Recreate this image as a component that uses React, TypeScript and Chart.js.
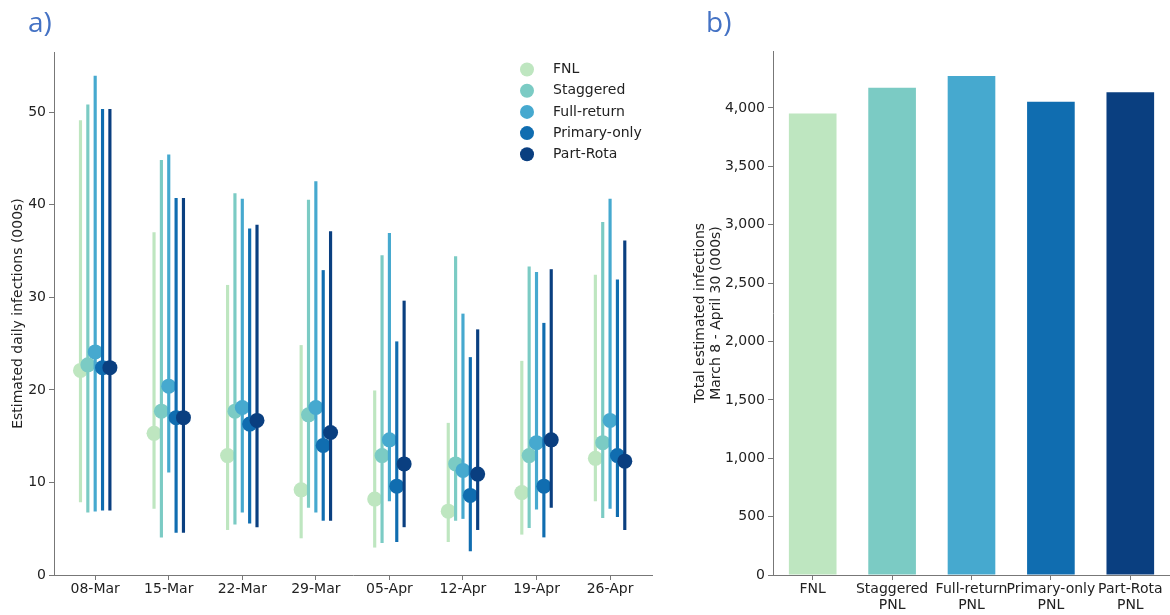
import React, { useEffect, useRef } from 'react';
import { Chart, registerables } from 'chart.js';

Chart.register(...registerables);

// ---- Panel a) data ----
const weeks = ['08-Mar', '15-Mar', '22-Mar', '29-Mar', '05-Apr', '12-Apr', '19-Apr', '26-Apr'];
const seriesNames = ['FNL', 'Staggered', 'Full-return', 'Primary-only', 'Part-Rota'];
const seriesColors = ['#bee6c0', '#7bcbc4', '#46a9cf', '#106db0', '#0a3f80'];
const seriesOffsets = [-0.2, -0.1, 0, 0.1, 0.2];

const fnlMean = [22.1, 15.3, 12.9, 9.2, 8.2, 6.9, 8.9, 12.6];
const fnlLow = [7.9, 7.2, 4.9, 4.0, 3.0, 3.6, 4.4, 8.0];
const fnlHigh = [49.1, 37.0, 31.3, 24.8, 19.9, 16.4, 23.1, 32.4];

const staggeredMean = [22.7, 17.7, 17.7, 17.3, 12.9, 12.0, 12.9, 14.3];
const staggeredLow = [6.8, 4.1, 5.5, 7.3, 3.5, 5.9, 5.1, 6.2];
const staggeredHigh = [50.8, 44.8, 41.2, 40.5, 34.5, 34.4, 33.3, 38.1];

const fullMean = [24.1, 20.4, 18.1, 18.1, 14.6, 11.3, 14.3, 16.7];
const fullLow = [6.9, 11.1, 6.8, 6.8, 8.0, 6.1, 7.1, 7.2];
const fullHigh = [53.9, 45.4, 40.6, 42.5, 36.9, 28.2, 32.7, 40.6];

const primaryMean = [22.4, 17.0, 16.3, 14.0, 9.6, 8.6, 9.6, 12.9];
const primaryLow = [7.0, 4.6, 5.6, 5.9, 3.6, 2.6, 4.1, 6.3];
const primaryHigh = [50.3, 40.7, 37.4, 32.9, 25.2, 23.5, 27.2, 31.9];

const partMean = [22.4, 17.0, 16.7, 15.4, 12.0, 10.9, 14.6, 12.3];
const partLow = [7.0, 4.6, 5.2, 5.9, 5.2, 4.9, 7.3, 4.9];
const partHigh = [50.3, 40.7, 37.8, 37.1, 29.6, 26.5, 33.0, 36.1];

const dailyYTicks = [0, 10, 20, 30, 40, 50];

// ---- Panel b) data ----
const totalLabels = [['FNL'], ['Staggered', 'PNL'], ['Full-return', 'PNL'], ['Primary-only', 'PNL'], ['Part-Rota', 'PNL']];
const totalValues = [3953, 4174, 4274, 4053, 4134];
const totalYTicks = [0, 500, 1000, 1500, 2000, 2500, 3000, 3500, 4000];

const FONT = "'DejaVu Sans', sans-serif";
const TEXT = '#222222';
const AXIS = '#777777';

Chart.defaults.font.family = FONT;
Chart.defaults.font.size = 14;
Chart.defaults.color = TEXT;

const means = [fnlMean, staggeredMean, fullMean, primaryMean, partMean];
const lows = [fnlLow, staggeredLow, fullLow, primaryLow, partLow];
const highs = [fnlHigh, staggeredHigh, fullHigh, primaryHigh, partHigh];

const innerLegend = {
  id: 'innerLegend',
  afterDraw(chart: any) {
    const { ctx, chartArea } = chart;
    ctx.save();
    ctx.font = `14px ${FONT}`;
    ctx.textBaseline = 'middle';
    ctx.textAlign = 'left';
    seriesNames.forEach((name, k) => {
      const y = chartArea.top + 17.5 + k * 21.2;
      ctx.beginPath();
      ctx.arc(chartArea.right - 125, y, 7, 0, Math.PI * 2);
      ctx.fillStyle = seriesColors[k];
      ctx.fill();
      ctx.fillStyle = TEXT;
      ctx.fillText(name, chartArea.right - 99, y);
    });
    ctx.restore();
  },
};

function DailyChart() {
  const ref = useRef<HTMLCanvasElement>(null);
  useEffect(() => {
    const datasets: any[] = [];
    seriesNames.forEach((name, k) => {
      datasets.push({
        type: 'bar',
        label: name + ' range',
        data: weeks.map((_, i) => ({ x: i + seriesOffsets[k], y: [lows[k][i], highs[k][i]] })),
        backgroundColor: seriesColors[k],
        borderWidth: 0,
        barThickness: 2.5,
        grouped: false,
        order: 20 - 2 * k,
      });
      datasets.push({
        type: 'scatter',
        label: name,
        data: weeks.map((_, i) => ({ x: i + seriesOffsets[k], y: means[k][i] })),
        pointRadius: 7.5,
        pointHoverRadius: 7.5,
        pointBackgroundColor: seriesColors[k],
        pointBorderWidth: 0,
        showLine: false,
        order: 19 - 2 * k,
      });
    });
    const chart = new Chart(ref.current!, {
      type: 'bar',
      data: { datasets },
      options: {
        responsive: false,
        animation: false,
        events: [],
        layout: { padding: { top: 52, right: 13, left: 0, bottom: 0 } },
        plugins: { legend: { display: false }, tooltip: { enabled: false } },
        scales: {
          x: {
            type: 'linear',
            min: -0.56,
            max: 7.57,
            offset: false,
            grid: { drawOnChartArea: false, tickLength: 5, color: AXIS, offset: false },
            border: { color: AXIS },
            ticks: {
              padding: 1,
              color: TEXT,
              font: { size: 14 },
              maxRotation: 0,
              autoSkip: false,
              callback: (v: any) => weeks[v] ?? '',
            },
            afterBuildTicks: (s: any) => {
              s.ticks = weeks.map((_, i) => ({ value: i }));
            },
            afterFit: (s: any) => {
              s.height = 40;
            },
          },
          y: {
            type: 'linear',
            min: 0,
            max: 56.5,
            grid: { drawOnChartArea: false, tickLength: 5, color: AXIS },
            border: { color: AXIS },
            ticks: { padding: 3, color: TEXT, font: { size: 14 } },
            afterBuildTicks: (s: any) => {
              s.ticks = dailyYTicks.map((v) => ({ value: v }));
            },
            title: {
              display: true,
              text: 'Estimated daily infections (000s)',
              font: { size: 14, lineHeight: 1.2 },
              color: TEXT,
              padding: { top: 10, bottom: 0 },
            },
            afterFit: (s: any) => {
              s.width = 54;
            },
          },
        },
      } as any,
      plugins: [innerLegend],
    });
    return () => chart.destroy();
  }, []);
  return <canvas ref={ref} width={665} height={615} style={{ position: 'absolute', left: 0, top: 0 }} />;
}

function TotalChart() {
  const ref = useRef<HTMLCanvasElement>(null);
  useEffect(() => {
    const chart = new Chart(ref.current!, {
      type: 'bar',
      data: {
        labels: totalLabels as any,
        datasets: [
          {
            label: 'Total estimated infections',
            data: totalValues,
            backgroundColor: seriesColors,
            borderWidth: 0,
            barPercentage: 0.6,
            categoryPercentage: 1,
          },
        ],
      },
      options: {
        responsive: false,
        animation: false,
        events: [],
        layout: { padding: { top: 51, right: 0, left: 0, bottom: 0 } },
        plugins: { legend: { display: false }, tooltip: { enabled: false } },
        scales: {
          x: {
            grid: { drawOnChartArea: false, tickLength: 5, color: AXIS, offset: false },
            border: { color: AXIS },
            ticks: {
              padding: 1,
              color: TEXT,
              font: { size: 14, lineHeight: 1.15 },
              maxRotation: 0,
              minRotation: 0,
              autoSkip: false,
            },
            afterFit: (s: any) => {
              s.height = 40;
            },
          },
          y: {
            min: 0,
            max: 4488,
            grid: { drawOnChartArea: false, tickLength: 5, color: AXIS },
            border: { color: AXIS },
            ticks: {
              padding: 3,
              color: TEXT,
              font: { size: 14 },
              callback: (v: any) => Number(v).toLocaleString('en-US'),
            },
            afterBuildTicks: (s: any) => {
              s.ticks = totalYTicks.map((v) => ({ value: v }));
            },
            title: {
              display: true,
              text: ['Total estimated infections', 'March 8 - April 30 (000s)'],
              font: { size: 14, lineHeight: 1.2 },
              color: TEXT,
              padding: { top: 11.6, bottom: 0 },
            },
            afterFit: (s: any) => {
              s.width = 93;
            },
          },
        },
      } as any,
    });
    return () => chart.destroy();
  }, []);
  return <canvas ref={ref} width={490} height={615} style={{ position: 'absolute', left: 680, top: 0 }} />;
}

const panelLabel: React.CSSProperties = {
  position: 'absolute',
  top: 7,
  fontFamily: "'Open Sans', sans-serif",
  fontSize: 28,
  lineHeight: '28px',
  color: '#4472c4',
};

export default function App() {
  return (
    <div
      style={{
        position: 'fixed',
        left: 0,
        top: 0,
        width: 1170,
        height: 615,
        background: '#ffffff',
        overflow: 'hidden',
      }}
    >
      <DailyChart />
      <TotalChart />
      <div style={{ ...panelLabel, left: 28 }}>a)</div>
      <div style={{ ...panelLabel, left: 706 }}>b)</div>
    </div>
  );
}
